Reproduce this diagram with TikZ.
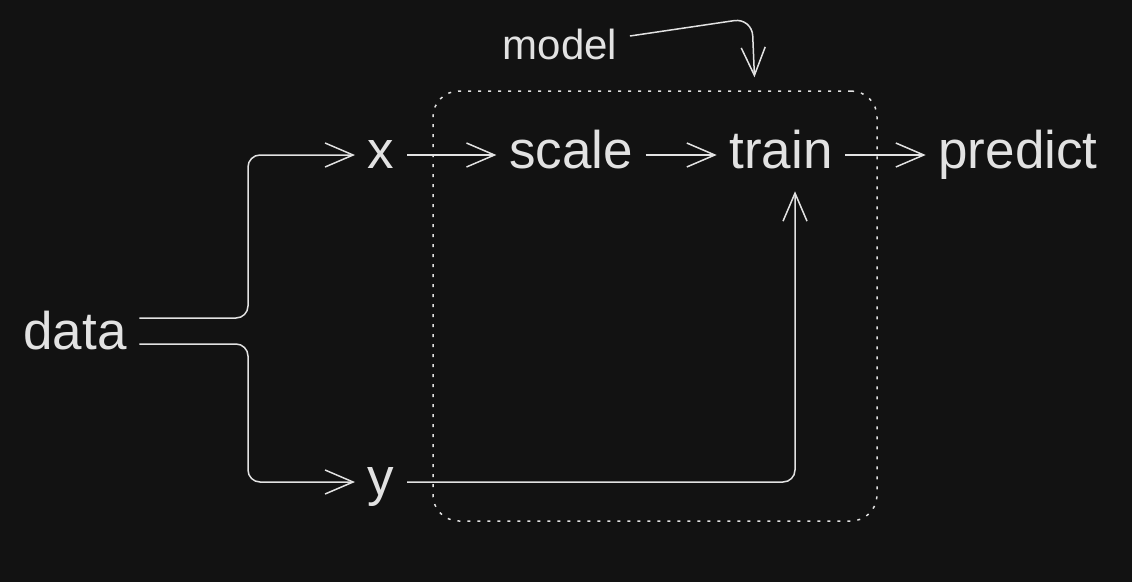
\documentclass[tikz,border=0pt]{standalone}
\usepackage{fontspec}
\setmainfont{Liberation Sans}
\usetikzlibrary{arrows.meta,positioning,fit}
\definecolor{ink}{HTML}{E2E2E2}
\definecolor{board}{HTML}{121212}

\begin{document}
\begin{tikzpicture}[x=1pt, y=-1pt, ->, >={Straight Barb[length=28pt,width=24pt]},
    line width=1.5pt, color=ink, node distance=190pt,
    every node/.style={font=\fontsize{53}{60}\selectfont, inner xsep=12pt, inner ysep=10pt,
      text height=27pt, text depth=0pt},
    small/.style={font=\fontsize{42}{50}\selectfont, text height=22pt},
    box/.style={draw, dash pattern=on 3pt off 7pt, rounded corners=26pt, inner sep=0pt}]
  \fill[board] (0,0) rectangle (1132,582);
  \useasboundingbox (0,0) rectangle (1132,582);

  \node (data)                  at (75,336)   {data};
  \node (x)                     at (381,155)  {x};
  \node (y)       [below of=x, node distance=327pt]     {y};
  \node (scale)   [right of=x]                          {scale};
  \node (train)   [right of=scale, node distance=210pt] {train};
  \node (predict) [right of=train, node distance=237pt] {predict};
  \node[small] (model)          at (560,48)   {model};
  \node[box, fit={(433,91) (877,521)}] (pipe) {};

  \coordinate (split) at (248,336);
  \coordinate (bend)  at (752,18);

  \path (x)     edge (scale)
        (scale) edge (train)
        (train) edge (predict);

  \draw[rounded corners=12pt] ([yshift=18pt]data.east) -- ([yshift=18pt]data.east -| split) |- (x);
  \draw[rounded corners=12pt] ([yshift=-8pt]data.east) -- ([yshift=-8pt]data.east -| split) |- (y);
  \draw[rounded corners=12pt, shorten >=12pt] (y) -| ([xshift=14pt]train.south);
  \draw[rounded corners=18pt, shorten >=13pt] ([yshift=12pt]model.east) -- (bend) -- ([xshift=100pt]pipe.north);
\end{tikzpicture}
\end{document}
